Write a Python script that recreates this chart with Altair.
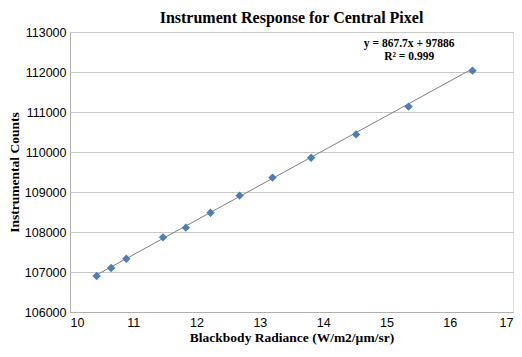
import altair as alt
import pandas as pd

radiance = [10.42, 10.65, 10.89, 11.47, 11.83, 12.22, 12.68, 13.20, 13.81, 14.52, 15.35, 16.36]
counts = [106900, 107100, 107330, 107866, 108109, 108480, 108910, 109361, 109856, 110439, 111135, 112034]
slope = 867.7
intercept = 97886
eq_lines = ["y = 867.7x + 97886", "R² = 0.999"]

df = pd.DataFrame({"x": radiance, "y": counts})
trend = pd.DataFrame({"x": [min(radiance), max(radiance)]})
trend["y"] = slope * trend["x"] + intercept
ann = pd.DataFrame({"x": [15.36, 15.36], "y": [112690, 112370], "t": eq_lines})

xs = alt.Scale(domain=[10, 17], nice=False, zero=False)
ys = alt.Scale(domain=[106000, 113000], nice=False, zero=False)

xax = alt.Axis(title="Blackbody Radiance (W/m2/µm/sr)", values=list(range(10, 18)), tickCount=20, grid=False,
               ticks=False, labelFont="Liberation Sans", labelFontSize=12.5, labelColor="#000",
               labelPadding=4, labelOverlap=False, titleFont="Liberation Serif", titleFontSize=13.5,
               titleFontWeight="bold", titleColor="#000", titlePadding=2, domainColor="#b0b0b0", format="d")
yax = alt.Axis(title="Instrumental Counts", values=list(range(106000, 113001, 1000)), tickCount=20, grid=True,
               gridColor="#c8c8c8", ticks=False, labelFont="Liberation Sans", labelFontSize=12.5,
               labelColor="#000", labelPadding=4, labelOverlap=False, titleFont="Liberation Serif",
               titleFontSize=13.5, titleFontWeight="bold", titleColor="#000", titlePadding=3,
               domainColor="#b0b0b0", format="d")

line = alt.Chart(trend).mark_line(color="#808080", strokeWidth=1).encode(
    x=alt.X("x:Q", scale=xs, axis=xax), y=alt.Y("y:Q", scale=ys, axis=yax))
pts = alt.Chart(df).mark_point(shape="diamond", filled=True, color="#4a7ebb", size=70, opacity=1).encode(
    x=alt.X("x:Q", scale=xs), y=alt.Y("y:Q", scale=ys))
txt = alt.Chart(ann).mark_text(font="Liberation Serif", fontWeight="bold", fontSize=11.5, color="#000").encode(
    x=alt.X("x:Q", scale=xs), y=alt.Y("y:Q", scale=ys), text="t:N")

chart = alt.layer(line, pts, txt).properties(
    width=443, height=280,
    title=alt.TitleParams("Instrument Response for Central Pixel", font="Liberation Serif", fontSize=16,
                          fontWeight="bold", color="#000", anchor="middle", offset=0),
    autosize=alt.AutoSizeParams(type="none"),
    padding={"left": 62, "top": 24, "right": 1, "bottom": 34},
).configure_view(stroke=None).configure(background="white")

chart.save("out.html", embed_options={"renderer": "svg", "actions": False})
